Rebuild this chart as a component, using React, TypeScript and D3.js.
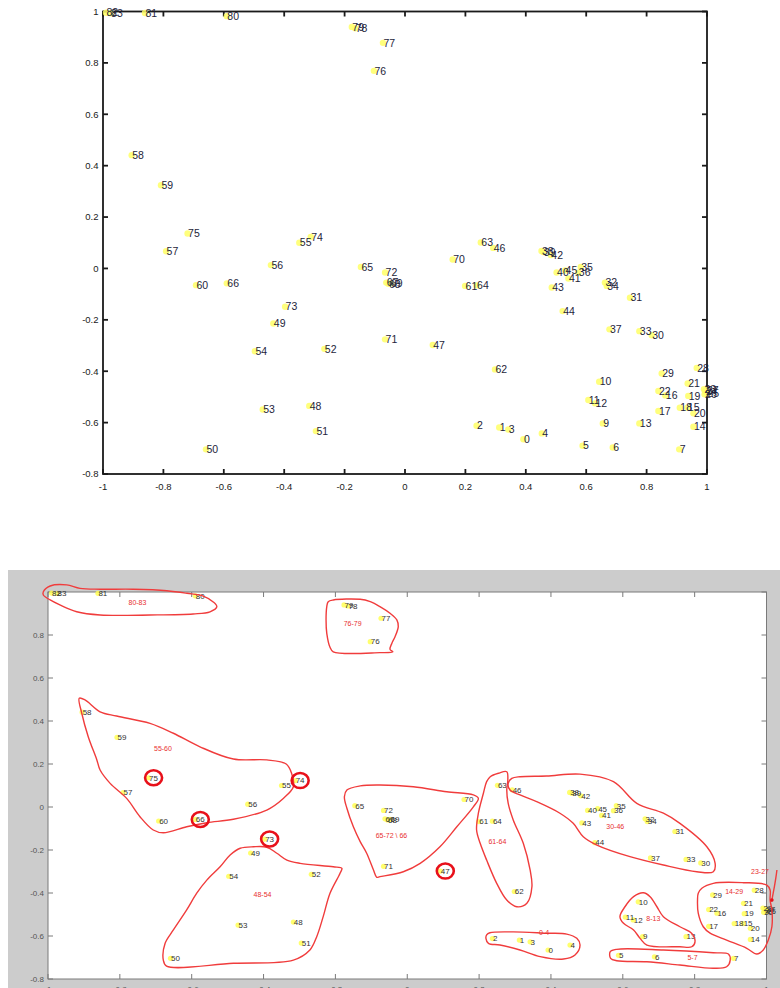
import React from "react";
import * as d3 from "d3";

// Labelled 2-D projection of items 0..83
const pointIds = [
  0, 1, 2, 3, 4, 5, 6, 7, 9, 10, 11, 12, 13, 14, 15, 16, 17, 18, 19, 20, 21, 22,
  23, 24, 25, 26, 27, 28, 29, 30, 31, 32, 33, 34, 35, 36, 37, 38, 39, 40, 41, 42,
  43, 44, 45, 46, 47, 48, 49, 50, 51, 52, 53, 54, 55, 56, 57, 58, 59, 60, 61, 62,
  63, 64, 65, 66, 67, 68, 69, 70, 71, 72, 73, 74, 75, 76, 77, 78, 79, 80, 81, 82, 83,
];
const pointX = [
  0.392, 0.312, 0.237, 0.342, 0.453, 0.588, 0.688, 0.908, 0.655, 0.643, 0.607, 0.629,
  0.776, 0.955, 0.935, 0.862, 0.839, 0.91, 0.938, 0.955, 0.936, 0.839, 0.99, 0.995,
  1.0, 0.992, 0.998, 0.966, 0.85, 0.817, 0.745, 0.662, 0.776, 0.668, 0.582, 0.574,
  0.677, 0.452, 0.458, 0.502, 0.541, 0.483, 0.486, 0.522, 0.53, 0.292, 0.092, -0.317,
  -0.436, -0.659, -0.295, -0.267, -0.471, -0.497, -0.35, -0.444, -0.791, -0.905,
  -0.808, -0.692, 0.199, 0.298, 0.251, 0.237, -0.146, -0.59, -0.062, -0.055, -0.048,
  0.158, -0.066, -0.066, -0.397, -0.312, -0.72, -0.103, -0.073, -0.165, -0.176, -0.59,
  -0.861, -0.99, -0.975,
];
const pointY = [
  -0.665, -0.619, -0.612, -0.627, -0.642, -0.69, -0.697, -0.704, -0.603, -0.441,
  -0.512, -0.525, -0.603, -0.616, -0.542, -0.494, -0.555, -0.542, -0.496, -0.564,
  -0.448, -0.477, -0.47, -0.478, -0.485, -0.49, -0.475, -0.387, -0.409, -0.26, -0.114,
  -0.055, -0.244, -0.068, 0.006, -0.017, -0.237, 0.068, 0.064, -0.016, -0.039, 0.052,
  -0.074, -0.166, -0.008, 0.08, -0.298, -0.535, -0.214, -0.704, -0.633, -0.313,
  -0.549, -0.322, 0.1, 0.013, 0.067, 0.441, 0.324, -0.065, -0.068, -0.393, 0.101,
  -0.066, 0.006, -0.058, -0.055, -0.06, -0.058, 0.035, -0.276, -0.016, -0.149, 0.123,
  0.136, 0.769, 0.878, 0.935, 0.94, 0.982, 0.994, 0.995, 0.993,
];

const xTicks = [-1, -0.8, -0.6, -0.4, -0.2, 0, 0.2, 0.4, 0.6, 0.8, 1];
const yTicks = [-0.8, -0.6, -0.4, -0.2, 0, 0.2, 0.4, 0.6, 0.8, 1];

// Hand-drawn group outlines (data coordinates)
const groupNames = ["80-83", "76-79", "55-60", "48-54", "65-72 \\ 66", "61-64", "30-46", "0-4", "8-13", "5-7", "14-29"];
const groupLabelX = [-0.751, -0.152, -0.68, -0.403, -0.044, 0.251, 0.579, 0.381, 0.685, 0.794, 0.91];
const groupLabelY = [0.95, 0.851, 0.274, -0.405, -0.135, -0.161, -0.092, -0.583, -0.518, -0.699, -0.394];
const groupOutlines: [number, number][][] = [
  [[-1.013, 1.001], [-0.994, 1.028], [-0.948, 1.033], [-0.911, 1.017], [-0.855, 1.013], [-0.763, 1.013], [-0.669, 1.006], [-0.613, 0.994], [-0.568, 0.981], [-0.541, 0.955], [-0.53, 0.932], [-0.549, 0.908], [-0.596, 0.898], [-0.716, 0.893], [-0.855, 0.893], [-0.92, 0.908], [-0.967, 0.94], [-0.994, 0.963], [-1.013, 0.986]],
  [[-0.22, 0.955], [-0.206, 0.963], [-0.131, 0.966], [-0.103, 0.955], [-0.076, 0.932], [-0.048, 0.901], [-0.029, 0.87], [-0.025, 0.839], [-0.034, 0.792], [-0.043, 0.761], [-0.048, 0.733], [-0.04, 0.722], [-0.076, 0.718], [-0.206, 0.722], [-0.215, 0.743], [-0.224, 0.808], [-0.226, 0.87], [-0.224, 0.932]],
  [[-0.913, 0.506], [-0.897, 0.498], [-0.855, 0.443], [-0.809, 0.423], [-0.716, 0.389], [-0.651, 0.343], [-0.577, 0.28], [-0.484, 0.223], [-0.391, 0.219], [-0.337, 0.2], [-0.322, 0.157], [-0.317, 0.094], [-0.345, 0.04], [-0.391, -0.014], [-0.484, -0.057], [-0.558, -0.073], [-0.614, -0.092], [-0.679, -0.12], [-0.707, -0.107], [-0.744, -0.045], [-0.781, 0.04], [-0.827, 0.11], [-0.855, 0.172], [-0.864, 0.219], [-0.888, 0.327], [-0.906, 0.436]],
  [[-0.465, -0.192], [-0.428, -0.185], [-0.391, -0.187], [-0.363, -0.215], [-0.335, -0.247], [-0.298, -0.262], [-0.206, -0.278], [-0.182, -0.285], [-0.187, -0.308], [-0.215, -0.401], [-0.234, -0.51], [-0.252, -0.603], [-0.271, -0.665], [-0.317, -0.712], [-0.484, -0.727], [-0.67, -0.74], [-0.679, -0.712], [-0.674, -0.634], [-0.651, -0.572], [-0.614, -0.479], [-0.586, -0.401], [-0.558, -0.34], [-0.521, -0.278], [-0.493, -0.223]],
  [[-0.168, 0.079], [-0.131, 0.098], [-0.076, 0.102], [0.017, 0.094], [0.11, 0.071], [0.184, 0.056], [0.198, 0.04], [0.184, 0.001], [0.138, -0.092], [0.091, -0.185], [0.036, -0.262], [-0.011, -0.301], [-0.076, -0.324], [-0.085, -0.327], [-0.094, -0.293], [-0.113, -0.215], [-0.131, -0.161], [-0.15, -0.092], [-0.168, -0.006], [-0.175, 0.048]],
  [[0.231, 0.141], [0.254, 0.157], [0.277, 0.164], [0.28, 0.126], [0.277, 0.079], [0.281, 0.017], [0.295, -0.06], [0.323, -0.169], [0.342, -0.293], [0.347, -0.371], [0.333, -0.448], [0.305, -0.464], [0.277, -0.433], [0.249, -0.355], [0.221, -0.247], [0.203, -0.169], [0.193, -0.107], [0.198, -0.029], [0.212, 0.064], [0.221, 0.118]],
  [[0.281, 0.11], [0.291, 0.133], [0.314, 0.141], [0.388, 0.144], [0.481, 0.153], [0.574, 0.118], [0.639, 0.017], [0.713, -0.029], [0.759, -0.076], [0.834, -0.185], [0.857, -0.262], [0.852, -0.301], [0.806, -0.301], [0.713, -0.27], [0.62, -0.231], [0.528, -0.177], [0.49, -0.138], [0.462, -0.076], [0.425, -0.029], [0.36, 0.025], [0.314, 0.056], [0.286, 0.079]],
  [[0.221, -0.595], [0.23, -0.585], [0.295, -0.581], [0.388, -0.587], [0.444, -0.591], [0.472, -0.611], [0.481, -0.642], [0.467, -0.688], [0.435, -0.707], [0.37, -0.696], [0.314, -0.665], [0.258, -0.642], [0.226, -0.634], [0.219, -0.611]],
  [[0.592, -0.51], [0.606, -0.464], [0.63, -0.417], [0.657, -0.399], [0.676, -0.417], [0.695, -0.464], [0.713, -0.51], [0.759, -0.557], [0.792, -0.588], [0.801, -0.627], [0.792, -0.65], [0.759, -0.65], [0.667, -0.642], [0.648, -0.611], [0.63, -0.572], [0.602, -0.541]],
  [[0.565, -0.673], [0.583, -0.662], [0.713, -0.665], [0.852, -0.678], [0.894, -0.684], [0.899, -0.712], [0.889, -0.743], [0.852, -0.75], [0.759, -0.735], [0.667, -0.72], [0.583, -0.715], [0.566, -0.704]],
  [[0.81, -0.401], [0.82, -0.378], [0.852, -0.355], [0.936, -0.352], [1.001, -0.363], [1.01, -0.386], [1.01, -0.433], [1.015, -0.479], [1.015, -0.557], [1.005, -0.619], [0.991, -0.665], [0.973, -0.684], [0.945, -0.657], [0.889, -0.619], [0.843, -0.587], [0.824, -0.557], [0.81, -0.494], [0.808, -0.433]],
];

// Items that sit outside their group, ringed in red
const circledIds = [75, 74, 66, 73, 47];

// Pointer for the stacked 23-27 cluster
const pointerName = "23-27";
const pointerLabel: [number, number] = [0.982, -0.301];
const pointerPath: [number, number][] = [[1.029, -0.293], [1.026, -0.33], [1.022, -0.37], [1.015, -0.433]];

const FONT = "'Liberation Sans', Arial, Helvetica, sans-serif";

function Axes({ x, y, stroke, tickLen, labelSize, labelColor, xLabelY, yLabelX, showTopY }: any) {
  const [x0, x1] = x.range();
  const [y0, y1] = y.range(); // y0 bottom, y1 top
  return (
    <g>
      <rect x={x0} y={y1} width={x1 - x0} height={y0 - y1} fill="none" stroke={stroke.color} strokeWidth={stroke.width} />
      {xTicks.map((t) => (
        <g key={"xt" + t}>
          <line x1={x(t)} x2={x(t)} y1={y0} y2={y0 - tickLen} stroke={stroke.color} strokeWidth={stroke.width} />
          <line x1={x(t)} x2={x(t)} y1={y1} y2={y1 + tickLen} stroke={stroke.color} strokeWidth={stroke.width} />
          <text x={x(t)} y={xLabelY} textAnchor="middle" fontSize={labelSize} fill={labelColor} fontFamily={FONT}>
            {String(t)}
          </text>
        </g>
      ))}
      {yTicks.map((t) => (
        <g key={"yt" + t}>
          <line x1={x0} x2={x0 + tickLen} y1={y(t)} y2={y(t)} stroke={stroke.color} strokeWidth={stroke.width} />
          <line x1={x1} x2={x1 - tickLen} y1={y(t)} y2={y(t)} stroke={stroke.color} strokeWidth={stroke.width} />
          {(t !== 1 || showTopY) && (
            <text x={yLabelX} y={y(t)} dy="0.35em" textAnchor="end" fontSize={labelSize} fill={labelColor} fontFamily={FONT}>
              {String(t)}
            </text>
          )}
        </g>
      ))}
    </g>
  );
}

function PointLabels({ x, y, size, color, dotR, dotColor }: any) {
  return (
    <g>
      {pointIds.map((id, i) => (
        <circle key={"d" + id} cx={x(pointX[i])} cy={y(pointY[i])} r={dotR} fill={dotColor} opacity={0.85} />
      ))}
      {pointIds.map((id, i) => (
        <text key={"t" + id} x={x(pointX[i]) + 0.5} y={y(pointY[i])} dy="0.35em" fontSize={size} fill={color} fontFamily={FONT}>
          {id}
        </text>
      ))}
    </g>
  );
}

export default function App() {
  const xTop = d3.scaleLinear().domain([-1, 1]).range([103, 707]);
  const yTop = d3.scaleLinear().domain([-0.8, 1]).range([474, 11.5]);
  const xBot = d3.scaleLinear().domain([-1, 1]).range([48, 766.5]);
  const yBot = d3.scaleLinear().domain([-0.8, 1]).range([979, 592]);

  const outline = d3
    .line<[number, number]>()
    .x((d) => xBot(d[0]))
    .y((d) => yBot(d[1]))
    .curve(d3.curveCatmullRomClosed.alpha(0.5));
  const pointer = d3
    .line<[number, number]>()
    .x((d) => xBot(d[0]))
    .y((d) => yBot(d[1]))
    .curve(d3.curveCatmullRom.alpha(0.5));

  const idx = (id: number) => pointIds.indexOf(id);
  const last = pointerPath[pointerPath.length - 1];

  return (
    <div style={{ position: "absolute", left: 0, top: 0, width: 780, height: 988, overflow: "hidden", background: "#fff" }}>
      <svg width={780} height={988} style={{ display: "block" }}>
        <rect width={780} height={988} fill="#fff" />

        {/* upper panel */}
        <Axes x={xTop} y={yTop} stroke={{ color: "#1a1a1a", width: 1.8 }} tickLen={5} labelSize={9.5} labelColor="#1a1a1a" xLabelY={490} yLabelX={98.5} showTopY={true} />
        <PointLabels x={xTop} y={yTop} size={10.5} color="#1e1e3a" dotR={3.2} dotColor="#ffff66" />

        {/* lower panel: annotated copy */}
        <rect x={8} y={570} width={772} height={418} fill="#cccccc" />
        <rect x={48} y={592} width={718.5} height={387} fill="#fff" />
        <Axes x={xBot} y={yBot} stroke={{ color: "#7a7a7a", width: 1 }} tickLen={5} labelSize={8} labelColor="#555" xLabelY={992} yLabelX={44} showTopY={false} />
        <PointLabels x={xBot} y={yBot} size={8} color="#333" dotR={2.6} dotColor="#ffff55" />

        {groupOutlines.map((pts, i) => (
          <path key={"o" + i} d={outline(pts) || ""} fill="none" stroke="#f03c3c" strokeWidth={1.4} />
        ))}
        {groupNames.map((name, i) => (
          <text key={"g" + i} x={xBot(groupLabelX[i])} y={yBot(groupLabelY[i])} dy="0.35em" textAnchor="middle" fontSize={7} fill="#e83030" fontFamily={FONT}>
            {name}
          </text>
        ))}
        {circledIds.map((id) => (
          <ellipse key={"c" + id} cx={xBot(pointX[idx(id)]) + 5} cy={yBot(pointY[idx(id)])} rx={8.5} ry={7.5} fill="none" stroke="#e8101a" strokeWidth={2.6} />
        ))}
        <text x={xBot(pointerLabel[0])} y={yBot(pointerLabel[1])} dy="0.35em" textAnchor="middle" fontSize={7} fill="#e83030" fontFamily={FONT}>
          {pointerName}
        </text>
        <path d={pointer(pointerPath) || ""} fill="none" stroke="#f03c3c" strokeWidth={1.4} />
        <circle cx={xBot(last[0])} cy={yBot(last[1])} r={1.8} fill="#e8101a" />
      </svg>
    </div>
  );
}
